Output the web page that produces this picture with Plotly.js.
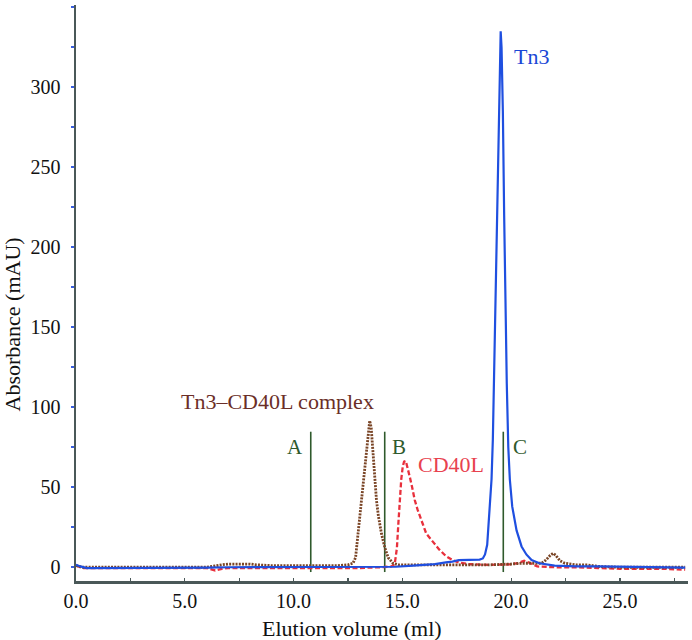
<!DOCTYPE html>
<html>
<head>
<meta charset="utf-8">
<script src="https://cdn.plot.ly/plotly-3.0.1.min.js"></script>
<style>html,body{margin:0;padding:0;background:#fff;}#chart{width:692px;height:640px;}</style>
</head>
<body>
<div id="chart"></div>
<script>
// Tn3 (blue, solid)
const tn3X = [0, 0.2, 0.5, 1, 2, 3, 4, 5, 6, 7, 8, 9, 10, 11, 12, 13, 14, 14.7, 15.5, 16.5, 17, 17.3, 17.6, 18, 18.4, 18.55, 18.7, 18.8, 18.9, 18.95, 19.02, 19.1, 19.16, 19.22, 19.28, 19.35, 19.42, 19.48, 19.52, 19.56, 19.62, 19.68, 19.74, 19.8, 19.87, 19.94, 20.05, 20.25, 20.48, 20.7, 20.94, 21.3, 22, 23, 24, 25, 26, 27, 28];
const tn3Y = [1.5, 0.5, -0.5, -0.5, -0.5, -0.5, -0.5, -0.5, -0.3, 0, 0, 0, 0, 0, 0, 0, 0, 0.3, 1, 2, 3, 3.5, 4.5, 4.5, 4.5, 4.8, 5.5, 8, 14, 23, 35, 55, 80, 120, 160, 215, 270, 315, 335, 325, 285, 220, 160, 115, 75, 55, 38, 23, 13, 8, 4.5, 2.5, 1, 0.5, 0.5, 0.3, 0, 0, -0.3];

// Tn3–CD40L complex (brown, dotted)
const cplxX = [0, 0.3, 1, 2, 3, 4, 5, 6, 6.7, 7, 7.5, 8, 8.3, 9, 10, 11, 12, 12.5, 12.73, 12.85, 12.96, 13.05, 13.12, 13.2, 13.27, 13.35, 13.42, 13.5, 13.57, 13.63, 13.7, 13.76, 13.81, 13.9, 14.04, 14.2, 14.35, 14.57, 14.8, 15.2, 16, 17, 18, 19, 20, 20.5, 21, 21.4, 21.6, 21.8, 21.93, 22.05, 22.25, 22.47, 23, 23.5, 24, 25, 26, 27, 28];
const cplxY = [1, 0, 0, 0, 0, 0, 0, 0, 1.5, 2, 2, 2, 1.5, 1, 1, 1, 1, 1.5, 2.5, 6, 21, 32, 42, 55, 63, 75, 85, 91.6, 87, 75, 63, 52, 42, 32, 21, 12, 6, 2.5, 1.5, 1.5, 1.5, 1.5, 1.5, 1.5, 2, 2.5, 2.5, 2.5, 4.5, 7.5, 8.7, 7.5, 4, 2.5, 1.5, 1.5, 0.5, 0, 0, 0, 0];

// CD40L (red, dashed)
const cd40lX = [0, 0.3, 1, 2, 3, 4, 5, 6, 6.4, 6.7, 7, 8, 9, 10, 11, 12, 13, 14, 14.5, 14.65, 14.75, 14.82, 14.88, 14.95, 15.02, 15.08, 15.16, 15.25, 15.35, 15.45, 15.57, 15.7, 15.85, 16.1, 16.4, 16.7, 17, 17.3, 17.6, 18, 19, 20, 20.3, 20.6, 20.9, 21.2, 22, 23, 24, 25, 26, 27, 28];
const cd40lY = [1, -0.5, -0.5, -0.5, -0.5, -0.5, -0.5, -0.5, -2, -1, -0.5, -0.5, -0.5, -0.5, -0.5, -0.5, -0.5, 0, 0.5, 2, 12, 28, 42, 55, 63, 66, 66.4, 62, 56, 50, 42, 36, 30, 21, 16, 11, 7, 4.5, 3, 2, 1.5, 1.8, 2.5, 4, 2.5, 0.5, 0, 0, -0.5, -1, -1, -1, -1.5];

// Fraction markers A, B, C
const markerNames = ['A', 'B', 'C'];
const markerX = [10.79, 14.19, 19.64];
const markerBottom = -3;
const markerTop = 84.7;

// Tick labels
const xTickVals = [0, 5, 10, 15, 20, 25];
const xTickText = ['0.0', '5.0', '10.0', '15.0', '20.0', '25.0'];
const yTickVals = [0, 50, 100, 150, 200, 250, 300];
const yTickText = ['0', '50', '100', '150', '200', '250', '300'];
const yMinorVals = [25, 75, 125, 175, 225, 275, 325, 350];
const xMinorVals = [2.5, 7.5, 12.5, 17.5, 22.5, 27.5];

const serif = '"Liberation Serif", "Times New Roman", serif';
const green = '#2f5a2c';

const traces = [];
markerX.forEach((mx, i) => {
  traces.push({
    x: [mx, mx], y: [markerBottom, markerTop], mode: 'lines',
    line: {color: green, width: 1.6}, name: markerNames[i], hoverinfo: 'skip'
  });
});
traces.push({x: cd40lX, y: cd40lY, mode: 'lines', name: 'CD40L',
  line: {color: '#e8303c', width: 2.3, dash: '5px,2.5px'}});
traces.push({x: cplxX, y: cplxY, mode: 'lines', name: 'Tn3–CD40L complex',
  line: {color: '#7a4526', width: 2.8, dash: '2px,1.2px'}});
traces.push({x: tn3X, y: tn3Y, mode: 'lines', name: 'Tn3',
  line: {color: '#1f4fe0', width: 2.2}});

const ann = (text, x, y, color, size) => ({
  text, x, y, xref: 'x', yref: 'y', showarrow: false,
  xanchor: 'center', yanchor: 'middle',
  font: {family: serif, size, color}
});

const layout = {
  width: 692, height: 640,
  margin: {l: 76, r: 4, t: 5, b: 59},
  paper_bgcolor: '#ffffff', plot_bgcolor: '#ffffff',
  showlegend: false,
  font: {family: serif, size: 20, color: '#111'},
  xaxis: {
    range: [0, 28.13], showgrid: false, zeroline: false,
    showline: true, linecolor: '#4a5858', linewidth: 2.5,
    tickmode: 'array', tickvals: xTickVals, ticktext: xTickText,
    ticks: 'inside', ticklen: 3, tickwidth: 1.2, tickcolor: '#4a5858',
    ticklabelstandoff: 0,
    minor: {tickmode: 'array', tickvals: xMinorVals, ticks: 'inside', ticklen: 3, tickwidth: 1.2, tickcolor: '#4a5858'},
    tickfont: {family: serif, size: 20, color: '#111'}
  },
  yaxis: {
    range: [-8.6, 351.4], showgrid: false, zeroline: false,
    showline: true, linecolor: '#4a5858', linewidth: 2.5,
    tickmode: 'array', tickvals: yTickVals, ticktext: yTickText,
    ticks: 'outside', ticklen: 3, tickwidth: 1.5, tickcolor: '#3a5fe0',
    ticklabelstandoff: 6,
    minor: {tickmode: 'array', tickvals: yMinorVals, ticks: 'outside', ticklen: 3, tickwidth: 1.5, tickcolor: '#3a5fe0'},
    tickfont: {family: serif, size: 20, color: '#111'}
  },
  annotations: [
    ann('Tn3–CD40L complex', 9.27, 103.3, '#6b2e27', 22),
    ann('CD40L', 17.22, 64.3, '#e8424f', 22),
    ann('Tn3', 20.95, 319.4, '#1a47d6', 22),
    ann(markerNames[0], 10.05, 74.9, green, 21),
    ann(markerNames[1], 14.83, 75.4, green, 21),
    ann(markerNames[2], 20.42, 75.2, green, 21),
    {text: 'Elution volume (ml)', xref: 'paper', yref: 'paper', x: (352 - 76) / 612, y: (581 - 628) / 576,
     xanchor: 'center', yanchor: 'middle', showarrow: false, font: {family: serif, size: 22, color: '#111'}},
    {text: 'Absorbance (mAU)', xref: 'paper', yref: 'paper', x: (12 - 76) / 612, y: (581 - 324.5) / 576,
     xanchor: 'center', yanchor: 'middle', textangle: -90, showarrow: false, font: {family: serif, size: 22, color: '#111'}}
  ]
};

Plotly.newPlot('chart', traces, layout, {displayModeBar: false, staticPlot: true});
</script>
</body>
</html>
